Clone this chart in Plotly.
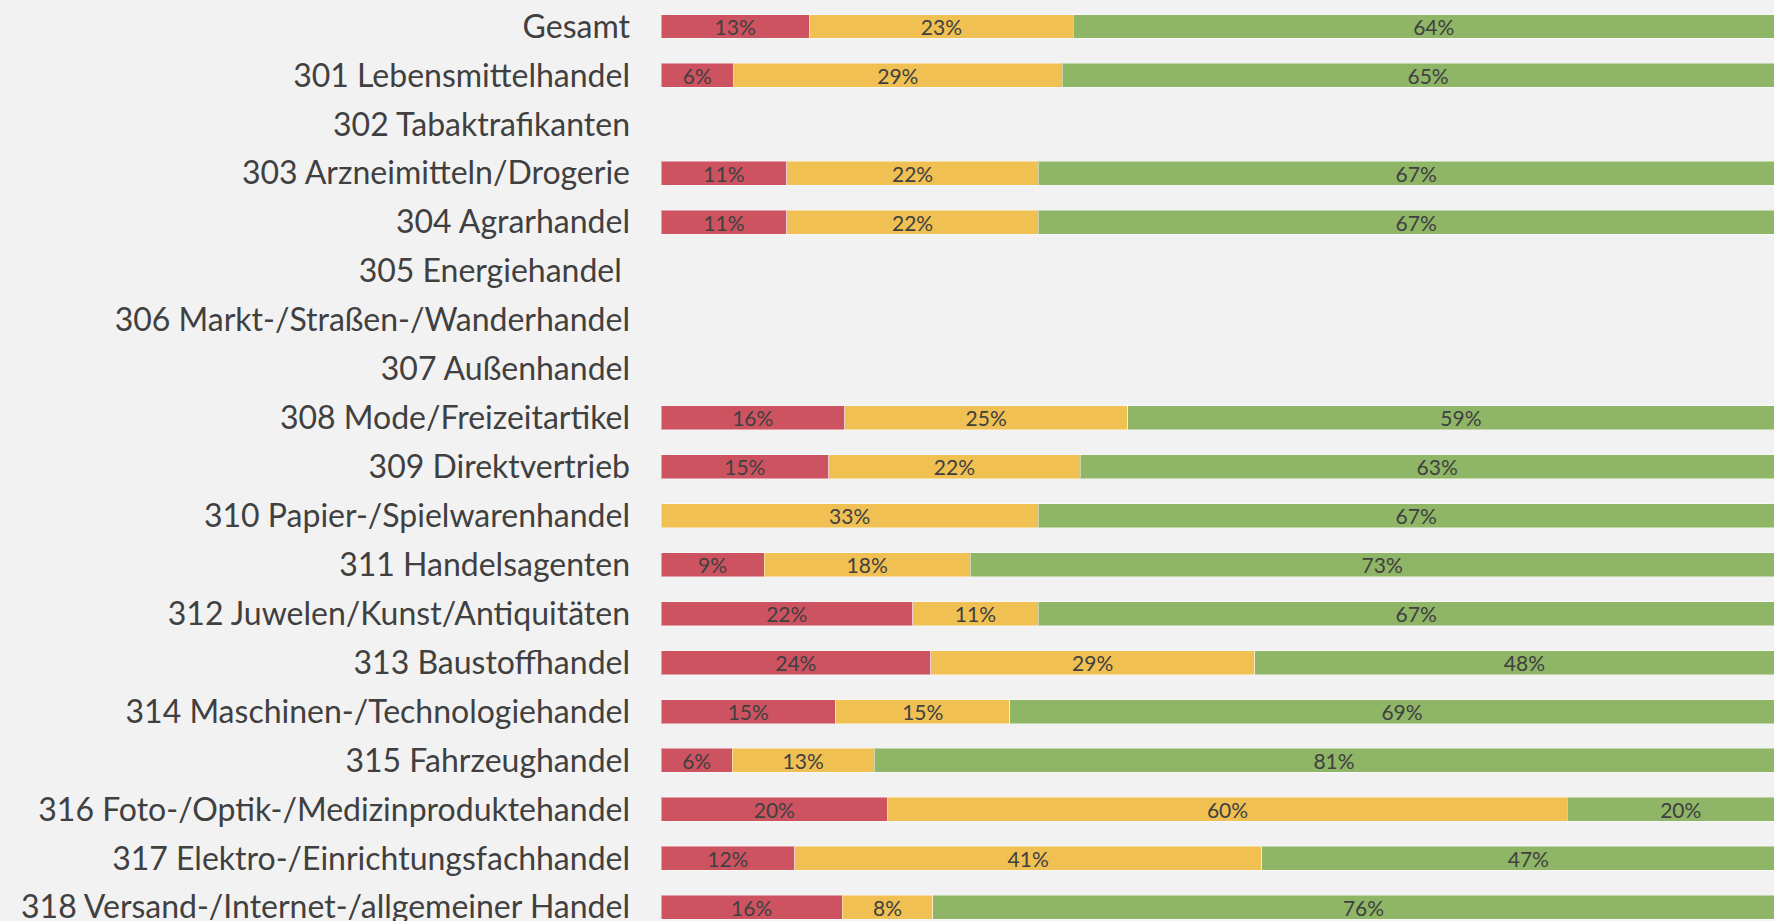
import plotly.graph_objects as go

categories = [
    "Gesamt",
    "301 Lebensmittelhandel",
    "302 Tabaktrafikanten",
    "303 Arzneimitteln/Drogerie",
    "304 Agrarhandel",
    "305 Energiehandel\u00a0",
    "306 Markt-/Straßen-/Wanderhandel",
    "307 Außenhandel",
    "308 Mode/Freizeitartikel",
    "309 Direktvertrieb",
    "310 Papier-/Spielwarenhandel",
    "311 Handelsagenten",
    "312 Juwelen/Kunst/Antiquitäten",
    "313 Baustoffhandel",
    "314 Maschinen-/Technologiehandel",
    "315 Fahrzeughandel",
    "316 Foto-/Optik-/Medizinproduktehandel",
    "317 Elektro-/Einrichtungsfachhandel",
    "318 Versand-/Internet-/allgemeiner Handel",
]

red_values = [13.1, 6.4, None, 11.1, 11.1, None, None, None, 16.2, 14.8, None, 9.1, 22.2, 23.8, 15.4, 6.3, 20.0, 11.8, 16.0]
yellow_values = [23.3, 29.0, None, 22.2, 22.2, None, None, None, 25.0, 22.2, 33.3, 18.2, 11.1, 28.6, 15.4, 12.5, 60.0, 41.2, 8.0]
green_values = [63.6, 64.6, None, 66.7, 66.7, None, None, None, 58.8, 63.0, 66.7, 72.7, 66.7, 47.6, 69.2, 81.2, 20.0, 47.1, 76.0]

series = [
    ("rot", red_values, "#cd5361"),
    ("gelb", yellow_values, "#f0c053"),
    ("grün", green_values, "#8fb566"),
]

fig = go.Figure()
for name, vals, color in series:
    fig.add_trace(go.Bar(
        name=name,
        y=categories,
        x=vals,
        orientation="h",
        marker=dict(color=color, line=dict(color="rgba(255,255,255,0.45)", width=1)),
        texttemplate="%{x:.0f}%",
        textposition="inside",
        insidetextanchor="middle",
        textangle=0,
        textfont=dict(family="Lato", size=21, color="#404040"),
        hoverinfo="skip",
    ))

fig.update_layout(
    barmode="stack",
    bargap=0.51,
    width=1774,
    height=921,
    margin=dict(l=661, r=0, t=0, b=0, pad=0, autoexpand=False),
    paper_bgcolor="#f2f2f2",
    plot_bgcolor="#f2f2f2",
    showlegend=False,
    uniformtext=dict(minsize=21, mode="show"),
    font=dict(family="Lato", color="#404040"),
)
fig.update_xaxes(
    range=[0, 98.23],
    automargin=False,
    showgrid=False,
    zeroline=False,
    showticklabels=False,
    showline=False,
)
fig.update_yaxes(
    type="category",
    categoryorder="array",
    categoryarray=categories,
    range=[18.281, -0.5416],
    automargin=False,
    showgrid=False,
    zeroline=False,
    showline=False,
    ticks="",
    ticklabelstandoff=30,
    tickfont=dict(family="Lato", size=32, color="#404040"),
)

fig.write_html(
    "out.html",
    config={"displayModeBar": False},
    post_script="document.body.style.margin='0';document.body.style.overflow='hidden';document.body.style.background='#f2f2f2';",
)
